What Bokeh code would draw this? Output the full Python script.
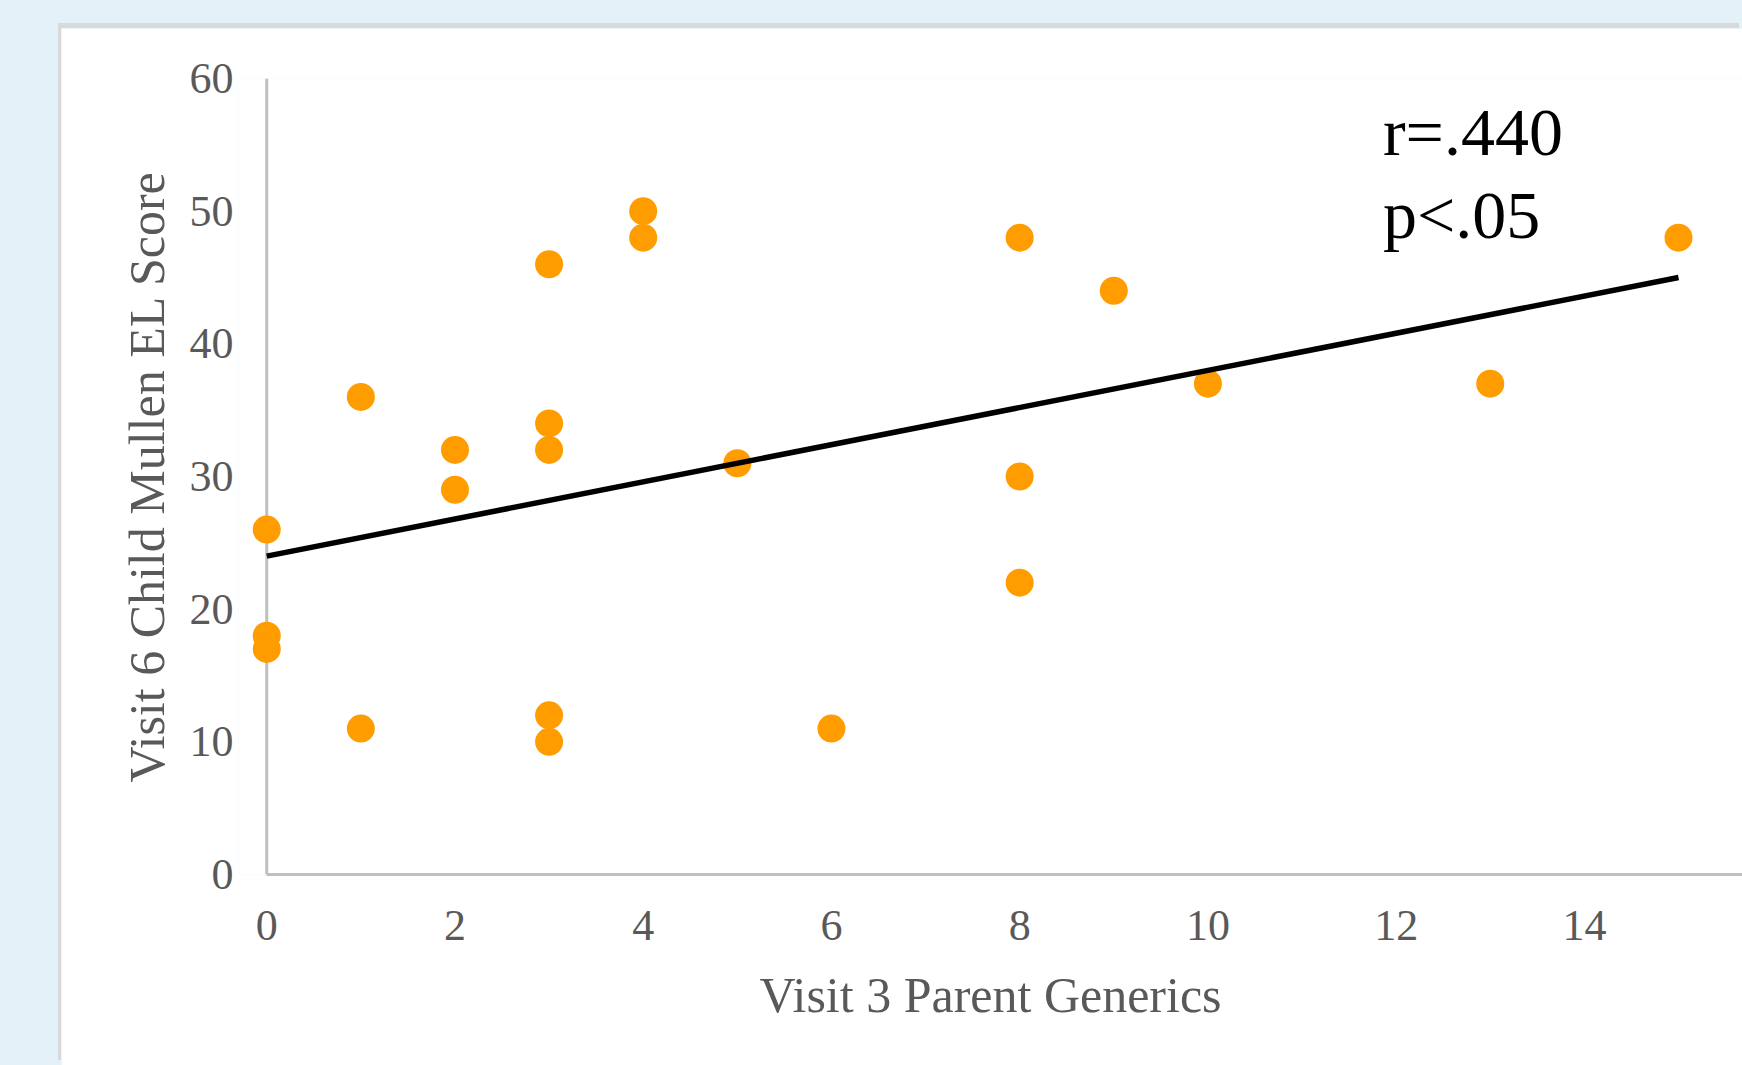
from bokeh.plotting import figure
from bokeh.models import (Range1d, FixedTicker, Span, Label,
                          GlobalInlineStyleSheet)
from bokeh.embed import file_html
from bokeh.resources import INLINE

# ---- data ----
parent_generics = [0, 0, 0, 1, 1, 2, 2, 3, 3, 3, 3, 3, 4, 4, 5, 6, 8, 8, 8, 9, 10, 13, 15]
mullen_el_score = [26, 18, 17, 36, 11, 32, 29, 46, 34, 32, 12, 10, 50, 48, 31, 11, 48, 30, 22, 44, 37, 37, 48]

trend_x = [0, 15]
trend_y = [24.0, 45.0]

x_ticks = [0, 2, 4, 6, 8, 10, 12, 14]
y_ticks = [0, 10, 20, 30, 40, 50, 60]

x_title = "Visit 3 Parent Generics"
y_title = "Visit 6 Child Mullen EL Score"
stat_lines = ["r=.440", "p<.05"]

# ---- styling ----
BLUE_BG = "#E3F1F9"
ORANGE = "#FF9C00"
AXIS_GRAY = "#BFBFBF"
TEXT_GRAY = "#595959"
SERIF = "Liberation Serif"

W, H = 1681, 1037

p = figure(width=W, height=H, output_backend="svg", toolbar_location=None,
           x_range=Range1d(-0.3, 15.68), y_range=Range1d(0, 60),
           min_border_left=177, min_border_right=0,
           min_border_top=50, min_border_bottom=191)

p.stylesheets = [GlobalInlineStyleSheet(css="body { background-color: %s; }" % BLUE_BG)]
p.styles = {"margin-left": "61px", "margin-top": "28px",
            "box-shadow": "-3px -5px 0px 0px #D9D9D9"}

p.background_fill_color = "white"
p.border_fill_color = "white"
p.outline_line_color = None
p.grid.visible = False

# x axis
xa = p.xaxis[0]
xa.ticker = FixedTicker(ticks=x_ticks)
xa.bounds = (0, 16)
xa.axis_line_color = AXIS_GRAY
xa.axis_line_width = 3
xa.major_tick_line_color = None
xa.minor_tick_line_color = None
xa.major_tick_out = 0
xa.major_tick_in = 0
xa.major_label_text_font = SERIF
xa.major_label_text_font_size = "44px"
xa.major_label_text_color = TEXT_GRAY
xa.major_label_standoff = 36
xa.axis_label = x_title
xa.axis_label_text_font = SERIF
xa.axis_label_text_font_size = "50px"
xa.axis_label_text_font_style = "normal"
xa.axis_label_text_color = TEXT_GRAY
xa.axis_label_standoff = 24

# y axis (line drawn as span at x = 0)
ya = p.yaxis[0]
ya.ticker = FixedTicker(ticks=y_ticks)
ya.axis_line_color = None
ya.major_tick_line_color = None
ya.minor_tick_line_color = None
ya.major_tick_out = 0
ya.major_tick_in = 0
ya.major_label_text_font = SERIF
ya.major_label_text_font_size = "44px"
ya.major_label_text_color = TEXT_GRAY
ya.major_label_standoff = 5
ya.axis_label = y_title
ya.axis_label_text_font = SERIF
ya.axis_label_text_font_size = "50px"
ya.axis_label_text_font_style = "normal"
ya.axis_label_text_color = TEXT_GRAY
ya.axis_label_standoff = 12

p.add_layout(Span(location=0, dimension="height", line_color=AXIS_GRAY,
                  line_width=3, level="underlay"))

# points and trend line
p.scatter(parent_generics, mullen_el_score, size=28, marker="circle",
          fill_color=ORANGE, line_color=None)
p.line(trend_x, trend_y, line_color="black", line_width=5.5)

# statistics text
p.add_layout(Label(x=11.86, y=56.0, text=stat_lines[0], text_font=SERIF,
                   text_font_size="68px", text_color="black",
                   text_baseline="alphabetic"))
p.add_layout(Label(x=11.86, y=49.7, text=stat_lines[1], text_font=SERIF,
                   text_font_size="68px", text_color="black",
                   text_baseline="alphabetic"))

open("out.html", "w").write(file_html(p, INLINE))
